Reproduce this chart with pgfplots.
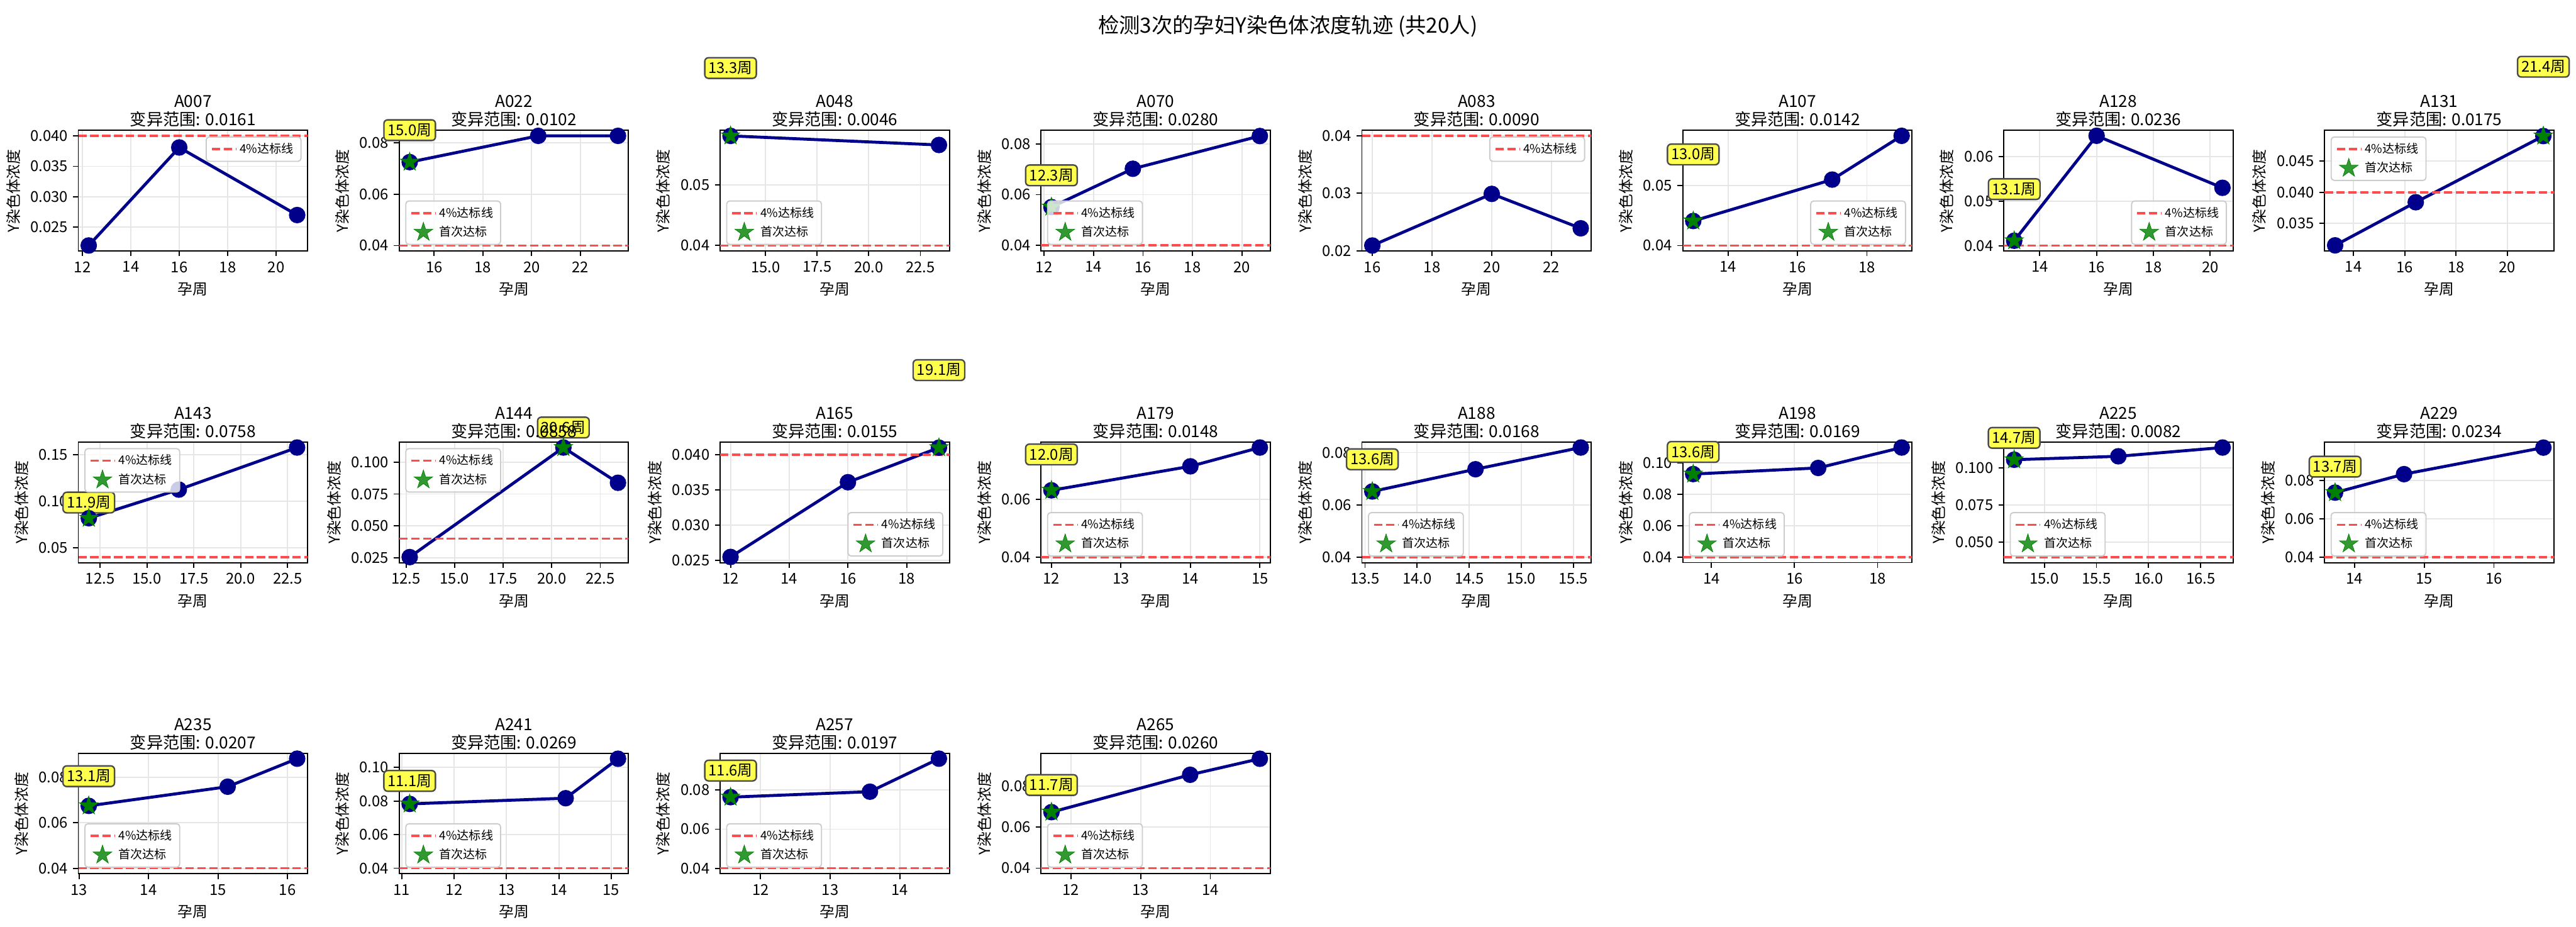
\documentclass[border=0pt]{standalone}
\usepackage{fontspec}
\setmainfont{Noto Sans CJK SC}
\usepackage{pgfplots}
\pgfplotsset{compat=1.18}
\definecolor{dkblue}{HTML}{00008B}
\definecolor{redl}{HTML}{FF4D4D}
\definecolor{sgreen}{HTML}{008000}
\definecolor{ybox}{HTML}{FFFF4D}
\definecolor{gridc}{HTML}{E6E6E6}
\pgfdeclareplotmark{fstar}{%
 \pgfpathmoveto{\pgfqpointpolar{90}{\pgfplotmarksize}}%
 \pgfpathlineto{\pgfqpointpolar{126}{0.382\pgfplotmarksize}}%
 \pgfpathlineto{\pgfqpointpolar{162}{\pgfplotmarksize}}%
 \pgfpathlineto{\pgfqpointpolar{198}{0.382\pgfplotmarksize}}%
 \pgfpathlineto{\pgfqpointpolar{234}{\pgfplotmarksize}}%
 \pgfpathlineto{\pgfqpointpolar{270}{0.382\pgfplotmarksize}}%
 \pgfpathlineto{\pgfqpointpolar{306}{\pgfplotmarksize}}%
 \pgfpathlineto{\pgfqpointpolar{342}{0.382\pgfplotmarksize}}%
 \pgfpathlineto{\pgfqpointpolar{18}{\pgfplotmarksize}}%
 \pgfpathlineto{\pgfqpointpolar{54}{0.382\pgfplotmarksize}}%
 \pgfpathclose
 \pgfusepathqfillstroke}
\pgfplotsset{
 pan/.style={
  scale only axis, width=153.1pt, height=80.5pt, anchor=north west, clip=false,
  tick pos=left, tick align=outside, major tick length=3.5pt,
  every tick/.style={black, line width=0.8pt},
  axis line style={line width=0.8pt},
  grid=major, grid style={gridc, line width=0.8pt},
  scaled ticks=false,
  /pgf/number format/assume math mode=true,
  ticklabel style={font=\fontsize{10}{12}\selectfont},
  label style={font=\fontsize{10}{12}\selectfont},
  title style={font=\fontsize{11}{12.2}\selectfont, align=center, at={(0.5,1)}, anchor=south, yshift=-4pt, inner sep=0pt},
  xlabel={孕周}, ylabel={Y染色体浓度},
  legend style={font=\fontsize{8}{9.6}\selectfont, draw=black!20, line width=0.8pt, rounded corners=2pt, fill=white, fill opacity=0.8, text opacity=1},
  legend cell align=left,
  legend image code/.code={\draw[mark repeat=2, mark phase=2, #1] plot coordinates {(0pt,0pt) (8pt,0pt) (16pt,0pt)};},
 },
 y3/.style={yticklabel style={/pgf/number format/.cd, fixed, fixed zerofill, precision=3}},
 y2/.style={yticklabel style={/pgf/number format/.cd, fixed, fixed zerofill, precision=2}},
 x1/.style={xticklabel style={/pgf/number format/.cd, fixed, fixed zerofill, precision=1}},
 lNE/.style={legend style={at={(1,1)}, anchor=north east, xshift=-4pt, yshift=-4pt}},
 lNW/.style={legend style={at={(0,1)}, anchor=north west, xshift=4pt, yshift=-4pt}},
 lSW/.style={legend style={at={(0,0)}, anchor=south west, xshift=4pt, yshift=4pt}},
 lSE/.style={legend style={at={(1,0)}, anchor=south east, xshift=-4pt, yshift=4pt}},
 traj/.style={color=dkblue, line width=2pt, mark=*, mark size=4.5pt, mark options={solid}, forget plot},
 redline/.style={color=redl, line width=1.5pt, dash pattern=on 5.55pt off 2.4pt},
 starm/.style={only marks, mark=fstar, mark size=6.6pt, color=sgreen, mark options={solid, fill=sgreen, draw=sgreen, line width=0.3pt}},
}
\tikzset{ann/.style={fill=ybox, draw=black!70, line width=1pt, rounded corners=2.5pt, inner sep=2.5pt, font=\fontsize{10}{12}\selectfont}}
\begin{document}
\begin{tikzpicture}
\node[font=\fontsize{14}{16}\selectfont] at (860pt,-17.5pt) {检测3次的孕妇Y染色体浓度轨迹 (共20人)};
% ---------------- row 1
\begin{axis}[pan, y3, at={(52.3pt,-87.1pt)}, title={A007\\变异范围: 0.0161}, xmin=11.83, xmax=21.30, ymin=0.0211, ymax=0.0409, xtick={12,14,16,18,20}, ytick={0.025,0.030,0.035,0.040}, lNE]
\addplot[traj] coordinates {(12.26,0.0220) (16.0,0.0381) (20.87,0.0270)};
\addplot[redline] coordinates {(11.83,0.04) (21.30,0.04)};
\addlegendentry{4\%达标线}
\end{axis}
\begin{axis}[pan, y2, at={(266.6pt,-87.1pt)}, title={A022\\变异范围: 0.0102}, xmin=14.57, xmax=23.97, ymin=0.0379, ymax=0.0847, xtick={16,18,20,22}, ytick={0.04,0.06,0.08}, lSW]
\addplot[traj] coordinates {(15.0,0.0724) (20.27,0.0826) (23.54,0.0826)};
\addplot[redline] coordinates {(14.57,0.04) (23.97,0.04)};
\addlegendentry{4\%达标线}
\addplot[starm] coordinates {(15.0,0.0724)};
\addlegendentry{首次达标}
\node[ann] at (axis cs:15.0,0.0848) {15.0周};
\end{axis}
\begin{axis}[pan, y2, x1, at={(480.9pt,-87.1pt)}, title={A048\\变异范围: 0.0046}, xmin=12.795, xmax=23.905, ymin=0.0391, ymax=0.0590, xtick={15,17.5,20,22.5}, ytick={0.04,0.05}, lSW]
\addplot[traj] coordinates {(13.3,0.0581) (23.40,0.0566)};
\addplot[redline] coordinates {(12.795,0.04) (23.905,0.04)};
\addlegendentry{4\%达标线}
\addplot[starm] coordinates {(13.3,0.0581)};
\addlegendentry{首次达标}
\node[ann] at (axis cs:13.3,0.0693) {13.3周};
\end{axis}
\begin{axis}[pan, y2, at={(695.2pt,-87.1pt)}, title={A070\\变异范围: 0.0280}, xmin=11.879, xmax=21.141, ymin=0.0378, ymax=0.0853, xtick={12,14,16,18,20}, ytick={0.04,0.06,0.08}, lSW]
\addplot[traj] coordinates {(12.3,0.0551) (15.59,0.0702) (20.72,0.0831)};
\addplot[redline] coordinates {(11.879,0.04) (21.141,0.04)};
\addlegendentry{4\%达标线}
\addplot[starm] coordinates {(12.3,0.0551)};
\addlegendentry{首次达标}
\node[ann] at (axis cs:12.3,0.0676) {12.3周};
\end{axis}
\begin{axis}[pan, y2, at={(909.5pt,-87.1pt)}, title={A083\\变异范围: 0.0090}, xmin=15.651, xmax=23.329, ymin=0.01995, ymax=0.04096, xtick={16,18,20,22}, ytick={0.02,0.03,0.04}, lNE]
\addplot[traj] coordinates {(16.0,0.0209) (20.0,0.0299) (22.98,0.0239)};
\addplot[redline] coordinates {(15.651,0.04) (23.329,0.04)};
\addlegendentry{4\%达标线}
\end{axis}
\begin{axis}[pan, y2, at={(1123.8pt,-87.1pt)}, title={A107\\变异范围: 0.0142}, xmin=12.7, xmax=19.3, ymin=0.0391, ymax=0.0592, xtick={14,16,18}, ytick={0.04,0.05}, lSE]
\addplot[traj] coordinates {(13.0,0.0441) (17.0,0.0510) (19.0,0.0583)};
\addplot[redline] coordinates {(12.7,0.04) (19.3,0.04)};
\addlegendentry{4\%达标线}
\addplot[starm] coordinates {(13.0,0.0441)};
\addlegendentry{首次达标}
\node[ann] at (axis cs:13.0,0.0552) {13.0周};
\end{axis}
\begin{axis}[pan, y2, at={(1338.1pt,-87.1pt)}, title={A128\\变异范围: 0.0236}, xmin=12.73, xmax=20.80, ymin=0.0388, ymax=0.0659, xtick={14,16,18,20}, ytick={0.04,0.05,0.06}, lSE]
\addplot[traj] coordinates {(13.1,0.0411) (16.0,0.0647) (20.43,0.0530)};
\addplot[redline] coordinates {(12.73,0.04) (20.80,0.04)};
\addlegendentry{4\%达标线}
\addplot[starm] coordinates {(13.1,0.0411)};
\addlegendentry{首次达标}
\node[ann] at (axis cs:13.1,0.0527) {13.1周};
\end{axis}
\begin{axis}[pan, y3, at={(1552.4pt,-87.1pt)}, title={A131\\变异范围: 0.0175}, xmin=12.88, xmax=21.81, ymin=0.0306, ymax=0.0499, xtick={14,16,18,20}, ytick={0.035,0.040,0.045}, lNW]
\addplot[traj] coordinates {(13.29,0.0315) (16.43,0.0384) (21.4,0.0490)};
\addplot[redline] coordinates {(12.88,0.04) (21.81,0.04)};
\addlegendentry{4\%达标线}
\addplot[starm] coordinates {(21.4,0.0490)};
\addlegendentry{首次达标}
\node[ann] at (axis cs:21.4,0.0601) {21.4周};
\end{axis}
% ---------------- row 2
\begin{axis}[pan, y2, x1, at={(52.3pt,-295.2pt)}, title={A143\\变异范围: 0.0758}, xmin=11.34, xmax=23.57, ymin=0.0341, ymax=0.1634, xtick={12.5,15,17.5,20,22.5}, ytick={0.05,0.10,0.15}, lNW]
\addplot[traj] coordinates {(11.9,0.0817) (16.70,0.1124) (23.01,0.1575)};
\addplot[redline] coordinates {(11.34,0.04) (23.57,0.04)};
\addlegendentry{4\%达标线}
\addplot[starm] coordinates {(11.9,0.0817)};
\addlegendentry{首次达标}
\node[ann] at (axis cs:11.9,0.0985) {11.9周};
\end{axis}
\begin{axis}[pan, y3, x1, at={(266.6pt,-295.2pt)}, title={A144\\变异范围: 0.0858}, xmin=12.15, xmax=23.95, ymin=0.0213, ymax=0.1157, xtick={12.5,15,17.5,20,22.5}, ytick={0.025,0.050,0.075,0.100}, lNW]
\addplot[traj] coordinates {(12.69,0.0256) (20.6,0.1114) (23.41,0.0838)};
\addplot[redline] coordinates {(12.15,0.04) (23.95,0.04)};
\addlegendentry{4\%达标线}
\addplot[starm] coordinates {(20.6,0.1114)};
\addlegendentry{首次达标}
\node[ann] at (axis cs:20.6,0.1271) {20.6周};
\end{axis}
\begin{axis}[pan, y3, at={(480.9pt,-295.2pt)}, title={A165\\变异范围: 0.0155}, xmin=11.645, xmax=19.455, ymin=0.0247, ymax=0.0418, xtick={12,14,16,18}, ytick={0.025,0.030,0.035,0.040}, lSE]
\addplot[traj] coordinates {(12.0,0.0255) (16.0,0.0361) (19.1,0.0410)};
\addplot[redline] coordinates {(11.645,0.04) (19.455,0.04)};
\addlegendentry{4\%达标线}
\addplot[starm] coordinates {(19.1,0.0410)};
\addlegendentry{首次达标}
\node[ann] at (axis cs:19.1,0.0520) {19.1周};
\end{axis}
\begin{axis}[pan, y2, at={(695.2pt,-295.2pt)}, title={A179\\变异范围: 0.0148}, xmin=11.85, xmax=15.15, ymin=0.0381, ymax=0.0798, xtick={12,13,14,15}, ytick={0.04,0.06}, lSW]
\addplot[traj] coordinates {(12.0,0.0631) (14.0,0.0714) (15.0,0.0779)};
\addplot[redline] coordinates {(11.85,0.04) (15.15,0.04)};
\addlegendentry{4\%达标线}
\addplot[starm] coordinates {(12.0,0.0631)};
\addlegendentry{首次达标}
\node[ann] at (axis cs:12.0,0.0755) {12.0周};
\end{axis}
\begin{axis}[pan, y2, x1, at={(909.5pt,-295.2pt)}, title={A188\\变异范围: 0.0168}, xmin=13.47, xmax=15.67, ymin=0.0379, ymax=0.0840, xtick={13.5,14,14.5,15,15.5}, ytick={0.04,0.06,0.08}, lSW]
\addplot[traj] coordinates {(13.57,0.0651) (14.56,0.0736) (15.57,0.0819)};
\addplot[redline] coordinates {(13.47,0.04) (15.67,0.04)};
\addlegendentry{4\%达标线}
\addplot[starm] coordinates {(13.57,0.0651)};
\addlegendentry{首次达标}
\node[ann] at (axis cs:13.57,0.0774) {13.6周};
\end{axis}
\begin{axis}[pan, y2, at={(1123.8pt,-295.2pt)}, title={A198\\变异范围: 0.0169}, xmin=13.31, xmax=18.83, ymin=0.0365, ymax=0.1133, xtick={14,16,18}, ytick={0.04,0.06,0.08,0.10}, lSW]
\addplot[traj] coordinates {(13.56,0.0929) (16.57,0.0968) (18.58,0.1098)};
\addplot[redline] coordinates {(13.31,0.04) (18.83,0.04)};
\addlegendentry{4\%达标线}
\addplot[starm] coordinates {(13.56,0.0929)};
\addlegendentry{首次达标}
\node[ann] at (axis cs:13.56,0.1070) {13.6周};
\end{axis}
\begin{axis}[pan, y3, x1, at={(1338.1pt,-295.2pt)}, title={A225\\变异范围: 0.0082}, xmin=14.61, xmax=16.81, ymin=0.0363, ymax=0.1175, xtick={15,15.5,16,16.5}, ytick={0.050,0.075,0.100}, lSW]
\addplot[traj] coordinates {(14.71,0.1056) (15.71,0.1079) (16.71,0.1138)};
\addplot[redline] coordinates {(14.61,0.04) (16.81,0.04)};
\addlegendentry{4\%达标线}
\addplot[starm] coordinates {(14.71,0.1056)};
\addlegendentry{首次达标}
\node[ann] at (axis cs:14.71,0.1203) {14.7周};
\end{axis}
\begin{axis}[pan, y2, at={(1552.4pt,-295.2pt)}, title={A229\\变异范围: 0.0234}, xmin=13.57, xmax=16.86, ymin=0.0372, ymax=0.0999, xtick={14,15,16}, ytick={0.04,0.06,0.08}, lSW]
\addplot[traj] coordinates {(13.72,0.0736) (14.71,0.0832) (16.71,0.0970)};
\addplot[redline] coordinates {(13.57,0.04) (16.86,0.04)};
\addlegendentry{4\%达标线}
\addplot[starm] coordinates {(13.72,0.0736)};
\addlegendentry{首次达标}
\node[ann] at (axis cs:13.72,0.0871) {13.7周};
\end{axis}
% ---------------- row 3
\begin{axis}[pan, y2, at={(52.3pt,-503.0pt)}, title={A235\\变异范围: 0.0207}, xmin=12.99, xmax=16.29, ymin=0.0376, ymax=0.0905, xtick={13,14,15,16}, ytick={0.04,0.06,0.08}, lSW]
\addplot[traj] coordinates {(13.14,0.0674) (15.14,0.0758) (16.14,0.0881)};
\addplot[redline] coordinates {(12.99,0.04) (16.29,0.04)};
\addlegendentry{4\%达标线}
\addplot[starm] coordinates {(13.14,0.0674)};
\addlegendentry{首次达标}
\node[ann] at (axis cs:13.14,0.0804) {13.1周};
\end{axis}
\begin{axis}[pan, y2, at={(266.6pt,-503.0pt)}, title={A241\\变异范围: 0.0269}, xmin=10.95, xmax=15.33, ymin=0.0367, ymax=0.1085, xtick={11,12,13,14,15}, ytick={0.04,0.06,0.08,0.10}, lSW]
\addplot[traj] coordinates {(11.15,0.0783) (14.13,0.0817) (15.13,0.1052)};
\addplot[redline] coordinates {(10.95,0.04) (15.33,0.04)};
\addlegendentry{4\%达标线}
\addplot[starm] coordinates {(11.15,0.0783)};
\addlegendentry{首次达标}
\node[ann] at (axis cs:11.15,0.0920) {11.1周};
\end{axis}
\begin{axis}[pan, y2, at={(480.9pt,-503.0pt)}, title={A257\\变异范围: 0.0197}, xmin=11.42, xmax=14.71, ymin=0.0372, ymax=0.0989, xtick={12,13,14}, ytick={0.04,0.06,0.08}, lSW]
\addplot[traj] coordinates {(11.57,0.0764) (13.57,0.0792) (14.56,0.0961)};
\addplot[redline] coordinates {(11.42,0.04) (14.71,0.04)};
\addlegendentry{4\%达标线}
\addplot[starm] coordinates {(11.57,0.0764)};
\addlegendentry{首次达标}
\node[ann] at (axis cs:11.57,0.0900) {11.6周};
\end{axis}
\begin{axis}[pan, y2, at={(695.2pt,-503.0pt)}, title={A265\\变异范围: 0.0260}, xmin=11.57, xmax=14.86, ymin=0.0373, ymax=0.0960, xtick={12,13,14}, ytick={0.04,0.06,0.08}, lSW]
\addplot[traj] coordinates {(11.72,0.0673) (13.71,0.0855) (14.71,0.0933)};
\addplot[redline] coordinates {(11.57,0.04) (14.86,0.04)};
\addlegendentry{4\%达标线}
\addplot[starm] coordinates {(11.72,0.0673)};
\addlegendentry{首次达标}
\node[ann] at (axis cs:11.72,0.0805) {11.7周};
\end{axis}
\pgfresetboundingbox
\path (0pt,0pt) rectangle (1720.3pt,-619pt);
\end{tikzpicture}
\end{document}
